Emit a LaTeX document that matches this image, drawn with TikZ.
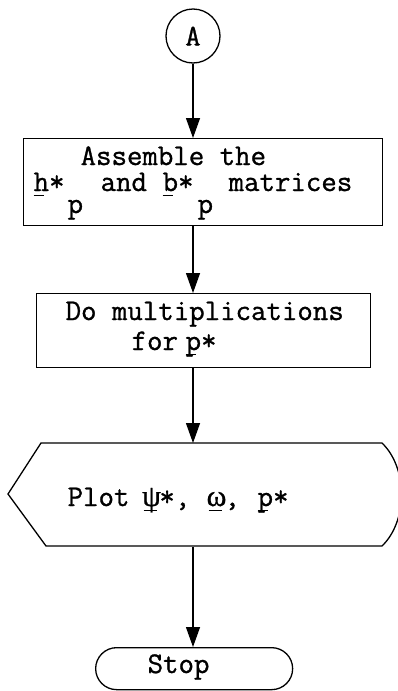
\documentclass[tikz,border=0pt]{standalone}
\usepackage{fontspec}
\setmonofont{Latin Modern Mono}[FakeBold=1.0]
\newfontfamily\grk{Liberation Serif}[FakeBold=0.8]
\usetikzlibrary{arrows.meta}
\newcommand\ulx[2][10pt]{\rlap{\rule[-5pt]{#1}{1.3pt}}#2}
\newcommand\mw[1]{\makebox[15.75pt]{#1}}
\begin{document}
\begin{tikzpicture}[x=1pt,y=-1pt, line width=1.3pt,
  font=\fontsize{30}{30}\selectfont\ttfamily,
  arr/.style={-{Triangle[length=20pt,width=14pt]}},
  txt/.style={anchor=base west, inner sep=0pt},
  boxed/.style={draw, rectangle, inner sep=0pt, anchor=north west}]
\path[use as bounding box, fill=white] (0,0) rectangle (398,691);
\clip (0,0) rectangle (398,691);
% connector A
\node[circle, draw, minimum size=54pt, inner sep=0pt] (A) at (193,36) {A};
% box 1
\node[boxed, minimum width=359pt, minimum height=87pt] (B1) at (23,138) {};
\node[txt] (t1) at (33,191) {%
  \makebox[0pt][l]{\hspace{47pt}\raisebox{26pt}{Assemble the}}%
  \makebox[34pt][l]{\ulx{h}*}%
  \makebox[33pt][l]{\raisebox{-22pt}{p}}%
  \makebox[62pt][l]{and}%
  \makebox[35pt][l]{\ulx{b}*}%
  \makebox[31pt][l]{\raisebox{-22pt}{p}}%
  matrices};
% box 2
\node[boxed, minimum width=334pt, minimum height=74pt] (B2) at (36,293) {};
\node[txt] (t8) at (65,320) {Do multiplications};
\node[txt] (t9) at (131,350) {for};
\node[txt] (t10) at (185,350) {\ulx{p}*};
% display shape
\node[inner sep=0pt, minimum width=390pt, minimum height=103pt, anchor=north west] (H) at (8,443) {};
\draw (8,494) -- (41,443) -- (382,443) .. controls (408,468) and (408,521) .. (382,546) -- (46,546) -- cycle;
\node[txt] (t11) at (67,506) {Plot};
\node[txt] (t12) at (143,506) {\ulx[13pt]{\mw{\grk ψ}}*,};
\node[txt] (t13) at (208,506) {\ulx[13pt]{\mw{\grk ω}},};
\node[txt] (t14) at (257,506) {\ulx{p}*};
% stop
\node[boxed, rounded corners=21pt, minimum width=197pt, minimum height=42pt] (S) at (95,647) {};
\node[txt] (t15) at (147,673) {Stop};
% connectors
\draw[arr] (A) -- (A |- B1.north);
\draw[arr] (B1.south -| A) -- (B2.north -| A);
\draw[arr] (B2.south -| A) -- (H.north -| A);
\draw[arr] (H.south -| A) -- (S.north -| A);
\end{tikzpicture}
\end{document}
